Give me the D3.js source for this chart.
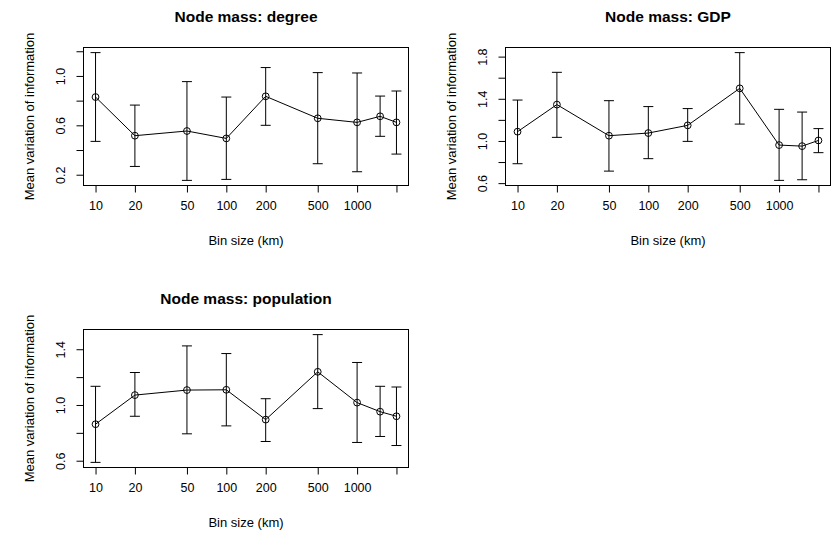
<!DOCTYPE html>
<html>
<head>
<meta charset="utf-8">
<script src="https://cdn.jsdelivr.net/npm/d3@7"></script>
<style>
  body { margin: 0; background: #fff; }
  svg { display: block; font-family: "Liberation Sans", Arial, Helvetica, sans-serif; }
</style>
</head>
<body>
<svg id="chart" width="838" height="533"></svg>
<script>
// ---- data ----
const binSizes = [10, 20, 50, 100, 200, 500, 1000, 1500, 2000];
const xTickValues = [10, 20, 50, 100, 200, 500, 1000, 2000];
const xTickLabels = ["10", "20", "50", "100", "200", "500", "1000", ""];

const degreeMean  = [0.829, 0.516, 0.554, 0.494, 0.835, 0.657, 0.624, 0.673, 0.624];
const degreeLower = [0.470, 0.267, 0.154, 0.162, 0.600, 0.289, 0.224, 0.511, 0.367];
const degreeUpper = [1.189, 0.764, 0.954, 0.829, 1.068, 1.027, 1.024, 0.837, 0.878];
const degreeTicks = [0.2, 0.4, 0.6, 0.8, 1.0, 1.2];
const degreeTickLabels = ["0.2", "", "0.6", "", "1.0", ""];

const gdpMean  = [1.088, 1.345, 1.050, 1.075, 1.148, 1.499, 0.961, 0.951, 1.005];
const gdpLower = [0.784, 1.034, 0.714, 0.832, 0.996, 1.160, 0.626, 0.632, 0.889];
const gdpUpper = [1.388, 1.651, 1.382, 1.326, 1.307, 1.838, 1.300, 1.274, 1.117];
const gdpTicks = [0.6, 0.8, 1.0, 1.2, 1.4, 1.6, 1.8];
const gdpTickLabels = ["0.6", "", "1.0", "", "1.4", "", "1.8"];

const popMean  = [0.862, 1.071, 1.107, 1.109, 0.895, 1.238, 1.017, 0.952, 0.919];
const popLower = [0.588, 0.919, 0.793, 0.850, 0.738, 0.974, 0.731, 0.774, 0.709];
const popUpper = [1.134, 1.233, 1.424, 1.369, 1.045, 1.505, 1.305, 1.134, 1.129];
const popTicks = [0.6, 0.8, 1.0, 1.2, 1.4];
const popTickLabels = ["0.6", "", "1.0", "", "1.4"];

const panels = [
  { title: "Node mass: degree", mean: degreeMean, lower: degreeLower, upper: degreeUpper,
    ticks: degreeTicks, tickLabels: degreeTickLabels, box: { x: 83.5, y: 47.5, w: 325, h: 138 } },
  { title: "Node mass: GDP", mean: gdpMean, lower: gdpLower, upper: gdpUpper,
    ticks: gdpTicks, tickLabels: gdpTickLabels, box: { x: 505.5, y: 47.5, w: 325, h: 138 } },
  { title: "Node mass: population", mean: popMean, lower: popLower, upper: popUpper,
    ticks: popTicks, tickLabels: popTickLabels, box: { x: 83.5, y: 329.5, w: 325, h: 138 } }
];

const svg = d3.select("#chart");

// R style: extend the data range by 4% on each side
function padExtent(ext) {
  const d = (ext[1] - ext[0]) * 0.04;
  return [ext[0] - d, ext[1] + d];
}

function drawPanel(p) {
  const b = p.box;
  const g = svg.append("g").attr("transform", `translate(${b.x},${b.y})`);

  const logExt = padExtent(d3.extent(binSizes, v => Math.log10(v)));
  const x = d3.scaleLog().domain([10 ** logExt[0], 10 ** logExt[1]]).range([0, b.w]);
  const yExt = padExtent([d3.min(p.lower), d3.max(p.upper)]);
  const y = d3.scaleLinear().domain(yExt).range([b.h, 0]);

  // box
  g.append("rect")
    .attr("x", 0).attr("y", 0).attr("width", b.w).attr("height", b.h)
    .attr("fill", "none").attr("stroke", "#000").attr("stroke-width", 1);

  // x axis
  const xAxis = d3.axisBottom(x)
    .tickValues(xTickValues)
    .tickSize(7)
    .tickPadding(9)
    .tickFormat((d, i) => xTickLabels[i]);
  const gx = g.append("g").attr("transform", `translate(0,${b.h})`).call(xAxis);
  gx.select(".domain")
    .attr("d", `M${x(xTickValues[0])},0H${x(xTickValues[xTickValues.length - 1])}`);

  // y axis
  const yAxis = d3.axisLeft(y)
    .tickValues(p.ticks)
    .tickSize(7)
    .tickFormat((d, i) => p.tickLabels[i]);
  const gy = g.append("g").call(yAxis);
  gy.select(".domain")
    .attr("d", `M0,${y(p.ticks[0])}V${y(p.ticks[p.ticks.length - 1])}`);
  gy.selectAll(".tick text")
    .attr("x", null).attr("dy", null)
    .attr("text-anchor", "middle")
    .attr("transform", "translate(-18.5,0) rotate(-90)");

  [gx, gy].forEach(a => {
    a.selectAll("path, line").attr("stroke", "#000");
    a.selectAll("text").attr("fill", "#000")
      .attr("font-size", 12.5).attr("font-family", null);
  });

  // error bars
  const cap = 5;
  const eb = g.append("g").attr("class", "errbars");
  binSizes.forEach((v, i) => {
    const cx = x(v);
    eb.append("line")
      .attr("x1", cx).attr("x2", cx)
      .attr("y1", y(p.lower[i])).attr("y2", y(p.upper[i]))
      .attr("stroke", "#000");
    eb.append("line")
      .attr("x1", cx - cap).attr("x2", cx + cap)
      .attr("y1", y(p.upper[i])).attr("y2", y(p.upper[i]))
      .attr("stroke", "#000");
    eb.append("line")
      .attr("x1", cx - cap).attr("x2", cx + cap)
      .attr("y1", y(p.lower[i])).attr("y2", y(p.lower[i]))
      .attr("stroke", "#000");
  });

  // line + open circles (pch = 1, not filled)
  const line = d3.line().x((d, i) => x(binSizes[i])).y(d => y(d));
  g.append("path")
    .datum(p.mean)
    .attr("d", line)
    .attr("fill", "none").attr("stroke", "#000").attr("stroke-width", 1);
  g.append("g").selectAll("circle")
    .data(p.mean)
    .join("circle")
    .attr("cx", (d, i) => x(binSizes[i]))
    .attr("cy", d => y(d))
    .attr("r", 3.4)
    .attr("fill", "none").attr("stroke", "#000").attr("stroke-width", 1);

  // titles
  g.append("text")
    .attr("x", b.w / 2).attr("y", -26)
    .attr("text-anchor", "middle")
    .attr("font-size", 15.5).attr("font-weight", 700)
    .text(p.title);
  g.append("text")
    .attr("x", b.w / 2).attr("y", b.h + 59)
    .attr("text-anchor", "middle")
    .attr("font-size", 13)
    .text("Bin size (km)");
  g.append("text")
    .attr("transform", `translate(-50,${b.h / 2}) rotate(-90)`)
    .attr("text-anchor", "middle")
    .attr("font-size", 13)
    .text("Mean variation of information");
}

panels.forEach(drawPanel);
</script>
</body>
</html>
